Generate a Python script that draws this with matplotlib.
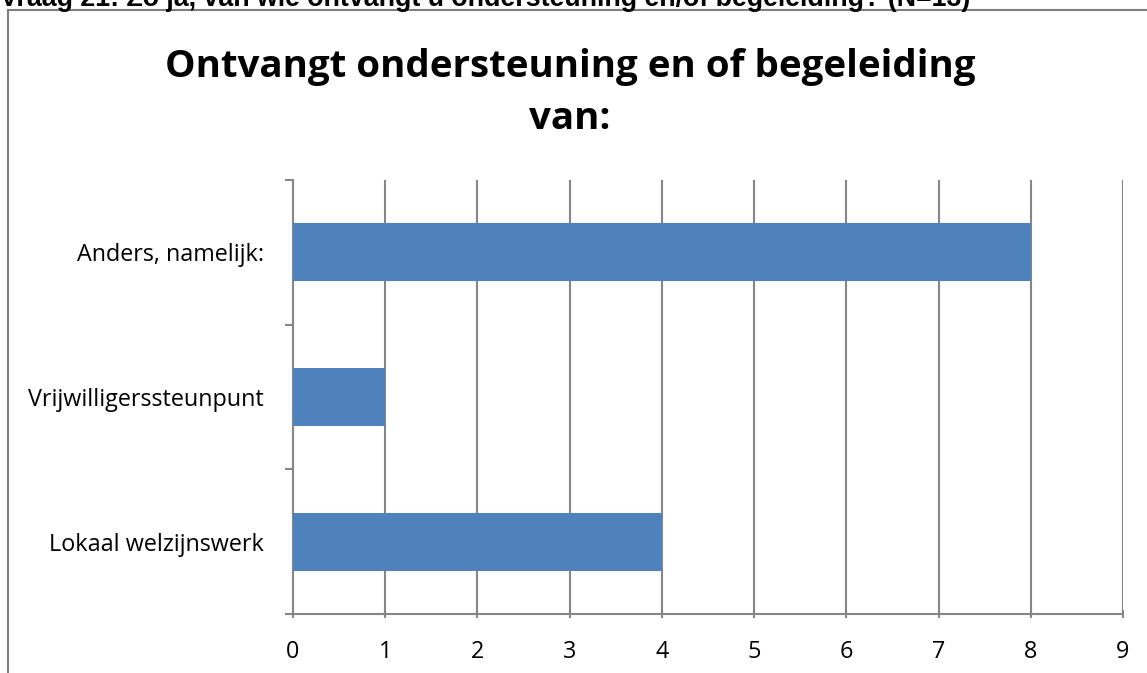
import matplotlib
matplotlib.use("Agg")
import matplotlib.pyplot as plt
from matplotlib.lines import Line2D

categories = ["Lokaal welzijnswerk", "Vrijwilligerssteunpunt", "Anders, namelijk:"]
values = [4, 1, 8]
xticks = list(range(0, 10))
title = "Ontvangt ondersteuning en of begeleiding\nvan:"
header = "Vraag 21: Zo ja, van wie ontvangt u ondersteuning en/of begeleiding? (N=13)"

W, H = 1147, 673
fig = plt.figure(figsize=(W / 100, H / 100), dpi=100)

gray = "#868686"
# header text (clipped at top)
fig.text(0.0, 1 - 6 / H, header, fontsize=19.3, fontweight="bold",
         family="Liberation Sans", ha="left", va="baseline", color="black")
# frame lines
fig.add_artist(Line2D([8 / W, 8 / W], [0, 1 - 10 / H], transform=fig.transFigure,
                      color="#7f7f7f", lw=1.5))
fig.add_artist(Line2D([8 / W, 1], [1 - 10 / H, 1 - 10 / H], transform=fig.transFigure,
                      color="#7f7f7f", lw=1.5))

ax = fig.add_axes([293 / W, 1 - 614 / H, (1123 - 293) / W, (614 - 180) / H])
ypos = list(range(len(categories)))
ax.barh(ypos, values, height=0.4, color="#4F81BD", zorder=3)
ax.set_xlim(0, 9)
ax.set_ylim(-0.5, len(categories) - 0.5)
ax.set_xticks(xticks)
ax.set_xticklabels([str(t) for t in xticks], fontsize=16.8, family="Open Sans")
ax.set_yticks(ypos)
ax.set_yticklabels(categories, fontsize=16.8, family="Open Sans")
ax.set_yticks([i - 0.5 for i in range(len(categories) + 1)], minor=True)
ax.tick_params(axis="y", which="major", length=0, pad=21)
ax.tick_params(axis="y", which="minor", length=6, width=1.5, color=gray, direction="out")
ax.tick_params(axis="x", which="major", length=6, width=1.5, color=gray, direction="inout", pad=16)
ax.grid(axis="x", color=gray, lw=1.5, zorder=0)
for s in ["top", "right"]:
    ax.spines[s].set_visible(False)
for s in ["left", "bottom"]:
    ax.spines[s].set_color(gray)
    ax.spines[s].set_linewidth(1.5)

fig.text(570 / W, 1 - 93 / H, title, fontsize=27.7, fontweight="bold", family="Open Sans",
         ha="center", va="center", linespacing=1.5)

fig.savefig("out.png", dpi=100, facecolor="white")
